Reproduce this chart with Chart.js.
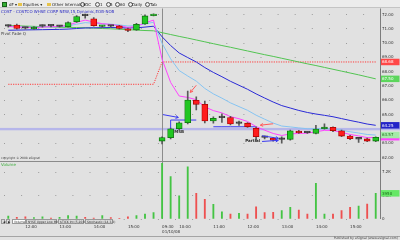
<!DOCTYPE html>
<html>
<head>
<meta charset="utf-8">
<script src="https://cdn.jsdelivr.net/npm/chart.js@4.4.1/dist/chart.umd.min.js"></script>
<style>
  body { margin: 0; background: #e1e1e1; font-family: "DejaVu Sans", "Liberation Sans", sans-serif; }
  #wrap { position: relative; width: 400px; height: 240px; overflow: hidden; }
  #c { position: absolute; left: 0; top: 0; }
  .abs { position: absolute; white-space: nowrap; }
  .tb { left: 0; top: 0; width: 400px; height: 8px; background: #ececec; border-bottom: 1px solid #c4c4c4; box-sizing: border-box; }
  .t4 { font-size: 4px; line-height: 5px; color: #222; }
  .circ { width: 3px; height: 3px; border: 0.6px solid #555; border-radius: 50%; top: 2px; }
  .fold { width: 4px; height: 3px; background: #e6c34a; top: 2.5px; }
  .tab { top: 219px; height: 5px; font-size: 3px; line-height: 5px; color: #333; background: #dcdcdc; border: 0.5px solid #999; box-sizing: border-box; padding-left: 1px; }
</style>
</head>
<body>
<div id="wrap">
  <canvas id="c" width="400" height="240"></canvas>

  <div class="abs tb"></div>
  <div class="abs" style="left:2px;top:1.5px;width:5px;height:5px;background:#34b034;border:0.5px solid #1a601a;box-sizing:border-box"></div>
  <div class="abs t4" style="left:9px;top:1.5px">dF</div>
  <div class="abs t4" style="left:15px;top:1.5px">▾</div>
  <div class="abs fold" style="left:18px"></div>
  <div class="abs t4" style="left:23px;top:1.5px">Equities ▾</div>
  <div class="abs fold" style="left:47px"></div>
  <div class="abs t4" style="left:52px;top:1.5px">Other Internals ▾</div>
  <div class="abs circ" style="left:80px"></div><div class="abs t4" style="left:84px;top:1.5px">IDC</div>
  <div class="abs circ" style="left:95px"></div><div class="abs t4" style="left:100px;top:1.5px">1</div>
  <div class="abs circ" style="left:106px"></div><div class="abs t4" style="left:110px;top:1.5px">5</div>
  <div class="abs circ" style="left:115px"></div><div class="abs t4" style="left:120px;top:1.5px">60</div>
  <div class="abs circ" style="left:128px"></div><div class="abs t4" style="left:132px;top:1.5px">Daily</div>
  <div class="abs circ" style="left:145px"></div><div class="abs t4" style="left:150px;top:1.5px">Tab</div>

  <div class="abs t4" style="left:1px;top:8.5px;color:#2a2ac4">COST - COSTCO WHSE CORP NEW,15,Dynamic,EOB-NOB</div>
  <div class="abs t4" style="left:1px;top:30.5px;color:#444">Pivot Fade Q</div>
  <div class="abs" style="left:1px;top:155.5px;font-size:3px;color:#444">copyright © 2008 eSignal</div>
  <div class="abs t4" style="left:1px;top:161.5px;color:#3cae3c">Volume</div>

  <div class="abs tab" style="left:1px;width:4px">◀</div>
  <div class="abs tab" style="left:6px;width:4px">▶</div>
  <div class="abs tab" style="left:12px;width:14px;background:#fff">Volume</div>
  <div class="abs tab" style="left:26px;width:31px">NYSE Upper Low Mkt Int</div>
  <div class="abs tab" style="left:58px;width:26px">$TICK Int (5,20,N)</div>
  <div class="abs tab" style="left:85px;width:28px">Stochastic (14,3,3)</div>

  <div class="abs" style="left:0;top:236px;width:400px;height:1px;background:#a4a4a4"></div>
  <div class="abs" style="right:2px;top:236.5px;font-size:3.2px;line-height:3.5px;color:#444">Published by eSignal (www.esignal.com)</div>
</div>

<script>
// 15-minute bars: previous afternoon, then the gap-down session
const times = ['11:30','11:45','12:00','12:15','12:30','12:45','13:00','13:15','13:30','13:45','14:00','14:15','14:30','14:45','15:00','15:15','15:30','15:45',
  '09:30','09:45','10:00','10:15','10:30','10:45','11:00','11:15','11:30','11:45','12:00','12:15','12:30','12:45','13:00','13:15','13:30','13:45','14:00','14:15','14:30','14:45','15:00','15:15','15:30','15:45'];
const shownTimes = ['10:00','11:00','12:00','13:00','14:00','15:00'];
const sessionStart = 18;
const sessionDate = '01/10/08';

const open = [71.19,71.26,71.06,71.00,71.19,71.21,71.17,71.15,71.50,71.93,71.70,71.16,71.19,71.20,71.00,70.92,71.34,71.92,
  63.15,63.39,64.02,64.43,66.00,65.72,64.55,64.79,64.80,64.39,64.40,64.04,63.42,63.36,63.26,63.27,63.83,63.74,63.69,64.01,64.11,63.87,63.50,63.29,63.30,63.15];
const high = [71.28,71.33,71.12,71.15,71.27,71.28,71.24,71.48,71.92,72.03,71.78,71.24,71.25,71.25,71.05,71.38,71.98,72.05,
  63.45,64.05,64.50,66.65,66.25,65.95,64.85,65.05,64.88,64.55,64.45,64.15,63.50,63.40,63.45,63.92,63.90,63.80,64.25,64.35,64.15,63.92,63.55,63.38,63.35,63.45];
const low = [71.12,70.98,70.98,70.95,71.12,71.14,71.12,71.12,71.45,71.75,71.18,71.10,71.12,70.98,70.80,70.88,71.30,71.90,
  62.95,63.30,63.95,64.35,65.32,64.42,64.40,64.45,64.28,64.25,64.10,63.22,63.30,63.15,63.00,63.22,63.68,63.68,63.65,63.98,63.80,63.45,63.25,63.05,63.10,63.10];
const close = [71.20,71.03,71.05,71.06,71.20,71.20,71.18,71.43,71.85,71.92,71.22,71.18,71.18,71.03,70.88,71.32,71.90,72.00,
  63.39,64.00,64.42,66.02,65.72,64.55,64.74,64.80,64.34,64.40,64.15,63.45,63.41,63.22,63.27,63.87,63.73,63.73,63.99,64.11,63.87,63.50,63.31,63.30,63.15,63.41];
const volume = [460,260,350,200,350,150,260,510,460,260,150,510,200,100,350,510,770,970,
  8570,6510,3580,8040,3950,3030,2260,1120,770,880,770,1890,970,1030,1280,1800,1380,770,5490,770,770,1280,1800,2000,2310,3950];

// studies
const ma5 = [71.17,71.12,71.10,71.08,71.12,71.15,71.16,71.25,71.45,71.61,71.47,71.36,71.30,71.21,71.10,71.17,71.41,71.61,
  68.87,67.25,66.30,66.20,66.04,65.54,65.28,65.12,64.86,64.71,64.52,64.16,63.91,63.68,63.54,63.65,63.68,63.70,63.80,63.90,63.89,63.76,63.61,63.51,63.39,63.40];
const ma10 = [71.16,71.14,71.12,71.11,71.13,71.14,71.15,71.20,71.32,71.43,71.39,71.35,71.32,71.27,71.20,71.22,71.34,71.46,
  69.99,68.90,68.08,67.70,67.34,66.83,66.45,66.15,65.82,65.56,65.30,64.96,64.68,64.41,64.20,64.14,64.07,64.01,64.01,64.03,64.00,63.91,63.80,63.71,63.61,63.57];
const ma20 = [70.90,70.91,70.92,70.93,70.94,70.95,70.96,70.98,71.02,71.06,71.07,71.08,71.09,71.08,71.06,71.07,71.12,71.18,
  70.44,69.83,69.31,68.99,68.68,68.29,67.95,67.65,67.33,67.05,66.77,66.45,66.16,65.88,65.63,65.46,65.29,65.15,65.04,64.95,64.85,64.72,64.59,64.47,64.34,64.25];
const ma60 = [71.22,71.21,71.19,71.17,71.15,71.13,71.11,71.10,71.09,71.07,71.05,71.02,71.00,70.97,70.94,70.91,70.88,70.86,
  70.73,70.60,70.47,70.35,70.22,70.09,69.96,69.83,69.71,69.58,69.45,69.32,69.19,69.07,68.94,68.81,68.68,68.55,68.43,68.30,68.17,68.04,67.91,67.78,67.64,67.50];
const pivot = [67.12,67.12,67.12,67.12,67.12,67.12,67.12,67.12,67.12,67.12,67.12,67.12,67.12,67.12,67.12,67.12,67.12,67.12,
  68.68,68.68,68.68,68.68,68.68,68.68,68.68,68.68,68.68,68.68,68.68,68.68,68.68,68.68,68.68,68.68,68.68,68.68,68.68,68.68,68.68,68.68,68.68,68.68,68.68,68.68];
const entryLine = [null,null,null,null,null,null,null,null,null,null,null,null,null,null,null,null,null,null,
  null,64.62,64.62,64.62,64.62,null,null,null,null,null,null,null,null,null,null,null,null,null,null,null,null,null,null,null,null,null];
const stopLine = [null,null,null,null,null,null,null,null,null,null,null,null,null,null,null,null,null,null,
  null,null,null,null,null,null,64.15,64.15,64.15,64.15,64.15,64.15,null,null,null,null,null,null,null,null,null,null,null,null,null,null];
const supportLevel = 64.0;

// markers drawn on the price panel: [barIndex, price]
const arrows = [
  { from: [18.1, 65.00], to: [19.9, 64.80], color: '#3a3af0' },
  { from: [22.0, 67.05], to: [21.3, 66.55], color: '#ff5a5a' },
  { from: [31.0, 64.36], to: [29.5, 64.26], color: '#ff5a5a' },
  { from: [29.7, 63.52], to: [31.6, 63.34], color: '#3a3af0' },
  { from: [29.7, 63.12], to: [31.6, 63.20], color: '#3a3af0' }
];
const notes = [
  { text: 'MSB', at: [20.0, 63.78] },
  { text: 'Partial', at: [28.6, 63.15] }
];

const isDoji = i => Math.abs(close[i] - open[i]) < 0.015;
const bodyFill = close.map((c, i) => isDoji(i) ? '#3a3a3a' : (c > open[i] ? '#22c622' : '#ff1c1c'));
const bodyEdge = close.map((c, i) => isDoji(i) ? '#3a3a3a' : (c > open[i] ? '#0d6e0d' : '#a80000'));
const volFill = close.map((c, i) => c >= open[i] ? '#44c444' : '#ee5050');

const arrowHead = (ctx, x1, y1, x2, y2) => {
	const a = Math.atan2(y2 - y1, x2 - x1);
	ctx.beginPath();
	ctx.moveTo(x1, y1);
	ctx.lineTo(x2, y2);
	ctx.moveTo(x2, y2);
	ctx.lineTo(x2 - 3 * Math.cos(a - 0.5), y2 - 3 * Math.sin(a - 0.5));
	ctx.moveTo(x2, y2);
	ctx.lineTo(x2 - 3 * Math.cos(a + 0.5), y2 - 3 * Math.sin(a + 0.5));
	ctx.stroke();
};

const axisBox = (ctx, y, bg, fg, text, h) => {
	ctx.fillStyle = bg;
	ctx.fillRect(381, y - h / 2, 18.5, h);
	ctx.fillStyle = fg;
	ctx.font = '4px "DejaVu Sans"';
	ctx.textBaseline = 'middle';
	ctx.textAlign = 'left';
	ctx.fillText(text, 382, y + 0.3);
};

const panelPlugin = {
	id: 'panels',
	beforeDatasetsDraw(chart) {
		const { ctx, chartArea, scales } = chart;
		const x = scales.x, y = scales.y;
		ctx.save();
		// support level across the whole width
		const ly = y.getPixelForValue(supportLevel);
		ctx.fillStyle = '#b6b6ea';
		ctx.fillRect(0, ly - 1, 400, 2.4);
		// session separator
		const sx = Math.round(x.getPixelForValue(sessionStart)) + 0.5;
		ctx.strokeStyle = '#8c8c8c';
		ctx.lineWidth = 1;
		ctx.beginPath();
		ctx.moveTo(sx, chartArea.top);
		ctx.lineTo(sx, chartArea.bottom);
		ctx.stroke();
		// entry connector
		ctx.strokeStyle = '#3a3af0';
		ctx.beginPath();
		ctx.moveTo(x.getPixelForValue(19), y.getPixelForValue(64.62));
		ctx.lineTo(x.getPixelForValue(19), y.getPixelForValue(64.0));
		ctx.stroke();
		ctx.restore();
	},
	afterDatasetsDraw(chart) {
		const { ctx, chartArea, scales } = chart;
		const x = scales.x, y = scales.y, yv = scales.yv;
		ctx.save();
		ctx.lineWidth = 1;
		arrows.forEach(a => {
			ctx.strokeStyle = a.color;
			arrowHead(ctx, x.getPixelForValue(a.from[0]), y.getPixelForValue(a.from[1]),
				x.getPixelForValue(a.to[0]), y.getPixelForValue(a.to[1]));
		});
		ctx.fillStyle = '#262626';
		ctx.font = 'bold 4px "DejaVu Sans"';
		ctx.textAlign = 'center';
		ctx.textBaseline = 'middle';
		notes.forEach(n => ctx.fillText(n.text, x.getPixelForValue(n.at[0]), y.getPixelForValue(n.at[1])));
		// panel border
		const py = Math.round(yv.top) + 0.5;
		ctx.strokeStyle = '#8a8a8a';
		ctx.beginPath();
		ctx.moveTo(0, py);
		ctx.lineTo(chartArea.right, py);
		ctx.stroke();
		// right axis line
		const rx = Math.round(chartArea.right) + 0.5;
		ctx.strokeStyle = '#7c7c7c';
		ctx.beginPath();
		ctx.moveTo(rx, chartArea.top);
		ctx.lineTo(rx, chartArea.bottom);
		ctx.stroke();
		ctx.restore();
	},
	afterDraw(chart) {
		const { ctx, scales } = chart;
		const y = scales.y, yv = scales.yv;
		const last = arr => arr[arr.length - 1];
		ctx.save();
		axisBox(ctx, y.getPixelForValue(last(pivot)), '#ff4646', '#ffffff', last(pivot).toFixed(2), 6.5);
		axisBox(ctx, y.getPixelForValue(last(ma60)), '#5cd65c', '#ffffff', last(ma60).toFixed(2), 6.5);
		axisBox(ctx, y.getPixelForValue(last(ma20)), '#2424c8', '#ffffff', last(ma20).toFixed(2), 6.5);
		axisBox(ctx, y.getPixelForValue(last(ma5)) + 1.5, '#ff44ff', '#ffffff', '', 3);
		axisBox(ctx, y.getPixelForValue(last(ma10)), '#a4eaa8', '#1d6e1d', last(ma10).toFixed(2), 6.5);
		axisBox(ctx, yv.getPixelForValue(last(volume)), '#66e866', '#1a6a1a', String(last(volume)), 6.5);
		ctx.restore();
	}
};

const lineSet = (label, data, color, order, dash) => ({
	type: 'line', label, data, yAxisID: 'y', order,
	borderColor: color, borderWidth: 1, borderDash: dash || [],
	pointRadius: 0, tension: 0, spanGaps: false
});

new Chart(document.getElementById('c'), {
	type: 'bar',
	data: {
		labels: times,
		datasets: [
			{
				label: 'bodies', data: open.map((o, i) => [o, close[i]]), yAxisID: 'y', order: 0,
				backgroundColor: bodyFill, borderColor: bodyEdge, borderWidth: 0.8, borderSkipped: false,
				barThickness: 6, minBarLength: 1.6, grouped: false
			},
			{
				label: 'wicks', data: low.map((l, i) => [l, high[i]]), yAxisID: 'y', order: 1,
				backgroundColor: '#5a5a5a', barThickness: 1, grouped: false
			},
			lineSet('ma5', ma5, '#ff45ff', 2),
			lineSet('ma10', ma10, '#86c4f2', 3),
			lineSet('ma20', ma20, '#2a2ad6', 4),
			lineSet('ma60', ma60, '#52c452', 5),
			lineSet('pivot', pivot, '#ff3a3a', 6, [1.2, 1.2]),
			lineSet('entry', entryLine, '#3a3af0', 2),
			lineSet('stop', stopLine, '#3a3af0', 2),
			{
				label: 'volume', data: volume, yAxisID: 'yv', order: 7,
				backgroundColor: volFill, barThickness: 1.2, grouped: false
			}
		]
	},
	options: {
		responsive: false,
		animation: false,
		events: [],
		layout: { padding: { left: 4, top: 8.5, right: 0, bottom: 0 } },
		plugins: { legend: { display: false }, tooltip: { enabled: false } },
		scales: {
			x: {
				type: 'category',
				offset: true,
				grid: { display: false, drawTicks: false },
				border: { display: false },
				afterFit: s => { s.height = 21; },
				ticks: {
					autoSkip: false, maxRotation: 0, minRotation: 0, align: 'start',
					padding: 5, color: '#333', font: { size: 4, family: 'DejaVu Sans', lineHeight: 1.3 },
					callback: (v, i) => {
						if (i === sessionStart) return [times[i], sessionDate];
						return shownTimes.includes(times[i]) ? times[i] : '';
					}
				}
			},
			y: {
				position: 'right', stack: 'panes', stackWeight: 152,
				min: 61.79, max: 72.42,
				afterFit: s => { s.width = 20; },
				grid: { color: '#9c9c9c', drawTicks: false },
				border: { display: false, dash: [1, 16.1] },
				ticks: {
					stepSize: 1, includeBounds: false, padding: 2, color: '#333',
					font: { size: 4, family: 'DejaVu Sans' },
					callback: v => v.toFixed(2)
				}
			},
			yv: {
				position: 'right', stack: 'panes', stackWeight: 58.5,
				min: 0, max: 9000,
				afterFit: s => { s.width = 20; },
				grid: { color: '#9c9c9c', drawTicks: false },
				border: { display: false, dash: [1, 16.1] },
				ticks: {
					stepSize: 2000, includeBounds: false, padding: 2, color: '#333',
					font: { size: 4, family: 'DejaVu Sans' },
					callback: v => v === 0 ? '0' : (v / 1000) + 'K'
				}
			}
		}
	},
	plugins: [panelPlugin]
});
</script>
</body>
</html>
